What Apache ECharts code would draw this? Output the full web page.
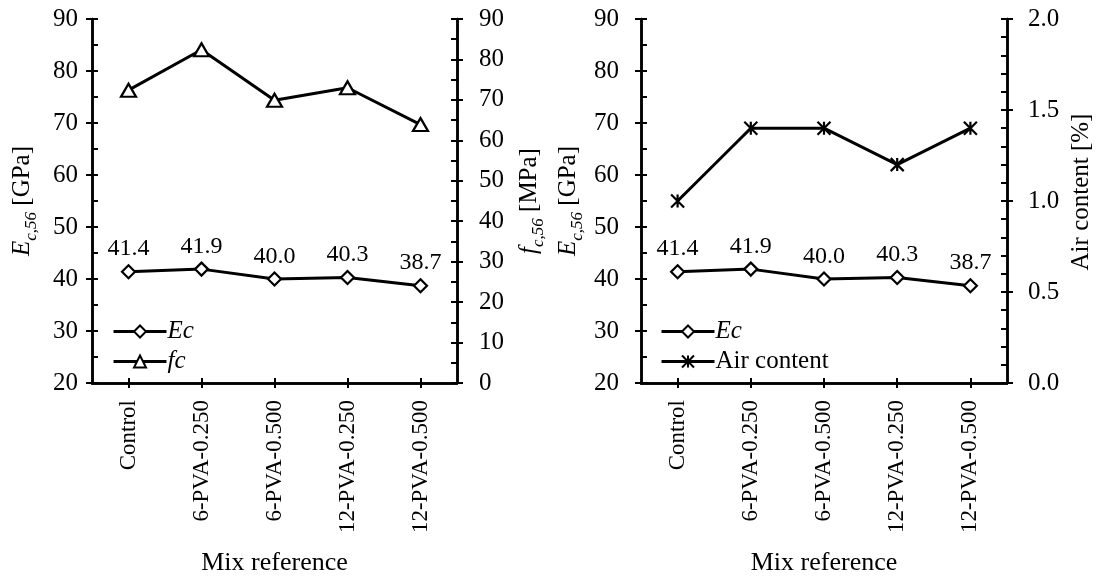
<!DOCTYPE html>
<html>
<head>
<meta charset="utf-8">
<script src="https://cdn.jsdelivr.net/npm/echarts@6/dist/echarts.min.js"></script>
<style>
html,body{margin:0;padding:0;background:#fff;}
#chart{width:1096px;height:581px;}
</style>
</head>
<body>
<div id="chart"></div>
<script>
const categories = ['Control', '6-PVA-0.250', '6-PVA-0.500', '12-PVA-0.250', '12-PVA-0.500'];
const ecValues = [41.4, 41.9, 40.0, 40.3, 38.7];
const fcValues = [72.4, 82.4, 69.9, 73.0, 63.9];
const airValues = [1.0, 1.4, 1.4, 1.2, 1.4];
const ecTicks = { min: 20, max: 90, major: 10, minor: 5 };
const fcTicks = { min: 0, max: 90, major: 10, minor: 5 };
const airTicks = { min: 0, max: 2, major: 0.5, minor: 0.1 };

const FONT = 'Liberation Serif';
const BLACK = '#000';
const grids = [
  { left: 92, right: 639, top: 19, bottom: 198 },
  { left: 641, right: 89, top: 19, bottom: 198 }
];

const nameRich = {
  i: { fontFamily: FONT, fontStyle: 'italic', fontSize: 25, lineHeight: 30, verticalAlign: 'top', color: BLACK },
  s: { fontFamily: FONT, fontStyle: 'italic', fontSize: 17, lineHeight: 17, verticalAlign: 'bottom', color: BLACK },
  n: { fontFamily: FONT, fontSize: 25, lineHeight: 30, verticalAlign: 'top', color: BLACK }
};

function xAxes(g) {
  return [
    {
      gridIndex: g, type: 'category', data: categories, position: 'bottom', boundaryGap: true,
      axisLine: { show: true, lineStyle: { color: BLACK, width: 2.5 } },
      axisTick: { show: true, inside: true, length: 5, alignWithLabel: true, interval: 0, lineStyle: { color: BLACK, width: 2 } },
      axisLabel: { rotate: 90, interval: 0, margin: 17, fontFamily: FONT, fontSize: 23, color: BLACK },
      splitLine: { show: false },
      name: 'Mix reference', nameLocation: 'middle', nameGap: 167,
      nameTextStyle: { fontFamily: FONT, fontSize: 26, color: BLACK }
    },
    {
      gridIndex: g, type: 'category', data: categories, position: 'top', boundaryGap: true,
      axisLine: { show: true, lineStyle: { color: BLACK, width: 2.5 } },
      axisTick: { show: true, inside: true, length: 5, alignWithLabel: true, interval: 0, lineStyle: { color: BLACK, width: 2 } },
      axisLabel: { show: false },
      splitLine: { show: false }
    }
  ];
}

function yPair(g, pos, t, labelMargin, name, nameGap, decimals, namePad) {
  const a = {
    gridIndex: g, type: 'value', position: pos, min: t.min, max: t.max, interval: t.major,
    axisLine: { show: true, lineStyle: { color: BLACK, width: 2.5 } },
    axisTick: { show: true, inside: false, length: 6, lineStyle: { color: BLACK, width: 2 } },
    axisLabel: {
      margin: labelMargin, fontFamily: FONT, fontSize: 25, color: BLACK,
      formatter: v => decimals ? v.toFixed(decimals) : String(v)
    },
    splitLine: { show: false },
    name: name, nameLocation: 'middle', nameGap: nameGap,
    nameTextStyle: { fontFamily: FONT, fontSize: 25, color: BLACK, rich: nameRich, padding: namePad || 0 }
  };
  const b = {
    gridIndex: g, type: 'value', position: pos, min: t.min, max: t.max, interval: t.minor,
    axisLine: { show: true, lineStyle: { color: BLACK, width: 2.5 } },
    axisTick: { show: true, inside: true, length: 6, lineStyle: { color: BLACK, width: 2 } },
    axisLabel: { show: false },
    splitLine: { show: false }
  };
  return [a, b];
}

const yAxes = [].concat(
  yPair(0, 'left', ecTicks, 14, '{i|E}{s|c,56}{n| [GPa]}', 52, 0),
  yPair(0, 'right', fcTicks, 22, '{i|f}{s|c,56}{n| [MPa]}', 60, 0),
  yPair(1, 'left', ecTicks, 22, '{i|E}{s|c,56}{n| [GPa]}', 55, 0),
  yPair(1, 'right', airTicks, 21, '{n|Air content [%]}', 62, 1, [0, 0, 0, 18])
);

const STAR = 'path://M0,0L12,12M12,0L0,12M6,0L6,12';

function lineSeries(name, xi, yi, data, symbol, size, withLabel) {
  const s = {
    name: name, type: 'line', xAxisIndex: xi, yAxisIndex: yi, data: data,
    symbol: symbol, symbolSize: size, showAllSymbol: true,
    lineStyle: { color: BLACK, width: 3 },
    itemStyle: { color: '#fff', borderColor: BLACK, borderWidth: 2.2 },
    emphasis: { disabled: true },
    animation: false,
    z: 3
  };
  if (withLabel) {
    s.label = {
      show: true, position: 'top', distance: 3,
      fontFamily: FONT, fontSize: 24, color: BLACK,
      formatter: p => p.value.toFixed(1)
    };
  }
  return s;
}

const series = [
  lineSeries('Ec', 0, 0, ecValues, 'diamond', 13, true),
  lineSeries('fc', 0, 2, fcValues, 'triangle', [15, 13], false),
  lineSeries('Ec', 2, 4, ecValues, 'diamond', 13, true),
  lineSeries('Air content', 2, 6, airValues, STAR, [13, 13], false)
];

function legend(left, names) {
  return {
    orient: 'vertical', left: left, top: 319, padding: 0,
    itemWidth: 53, itemHeight: 15, itemGap: 5,
    selectedMode: false,
    data: names,
    lineStyle: { color: BLACK, width: 3 },
    formatter: n => n === 'Air content' ? '{n|' + n + '}' : '{i|' + n + '}',
    textStyle: {
      fontFamily: FONT, fontSize: 25, color: BLACK, lineHeight: 25, padding: [0, 0, 0, -4],
      rich: {
        i: { fontFamily: FONT, fontStyle: 'italic', fontSize: 25, lineHeight: 25, color: BLACK },
        n: { fontFamily: FONT, fontSize: 25, lineHeight: 25, color: BLACK }
      }
    }
  };
}

const chart = echarts.init(document.getElementById('chart'), null, { renderer: 'canvas' });
chart.setOption({
  backgroundColor: '#fff',
  animation: false,
  grid: grids,
  xAxis: [].concat(xAxes(0), xAxes(1)),
  yAxis: yAxes,
  legend: [legend(112, ['Ec', 'fc']), legend(660, ['Ec', 'Air content'])],
  series: series
});
</script>
</body>
</html>
